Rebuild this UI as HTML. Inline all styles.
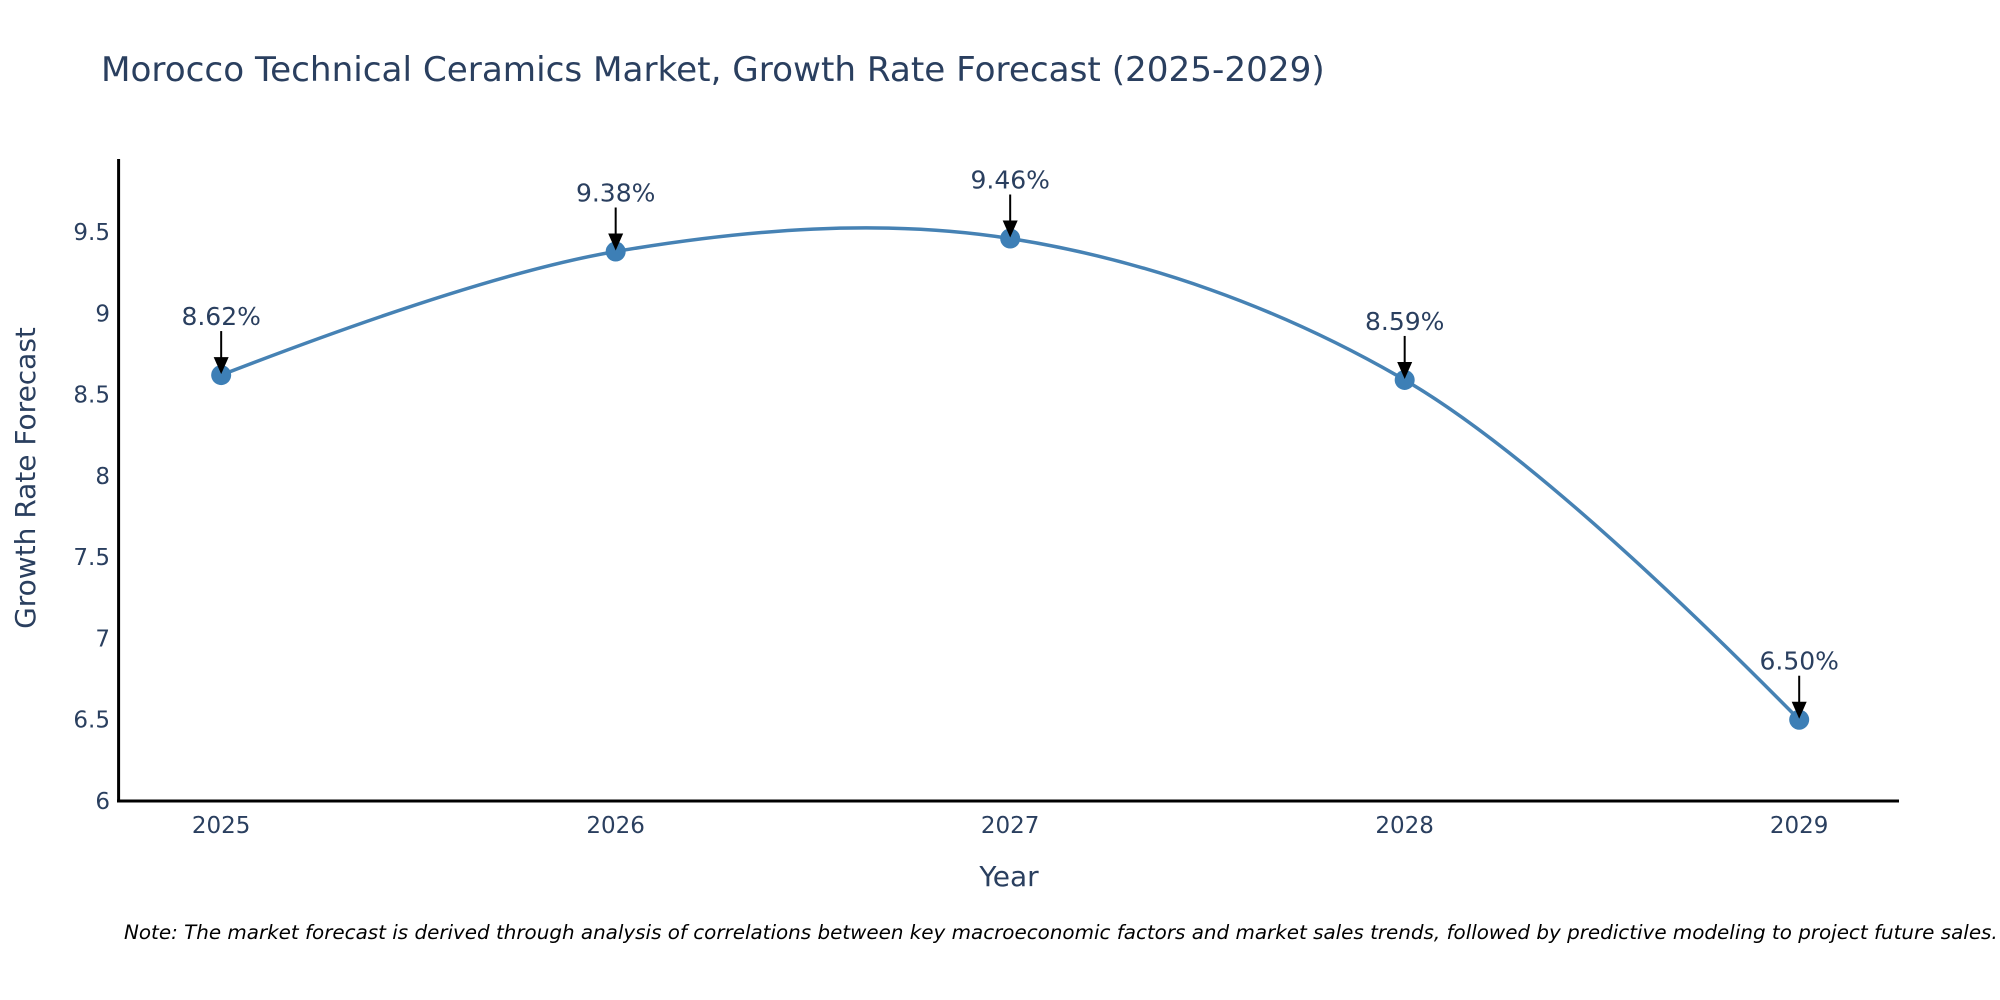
<!DOCTYPE html>
<html><head><meta charset="utf-8"><style>
html,body{margin:0;padding:0;background:#fff;width:2000px;height:1000px;overflow:hidden}
svg{display:block;font-family:"DejaVu Sans","Liberation Sans",sans-serif}
</style></head><body>
<svg id="chart" width="2000" height="1000" viewBox="0 0 2000 1000">
<text x="101" y="81" font-size="34.2" fill="#2a3f5f">Morocco Technical Ceramics Market, Growth Rate Forecast (2025-2029)</text>
<g id="yticks"></g>
<g id="xticks"></g>
<path id="line" fill="none" stroke="#4682b4" stroke-width="3.5"/>
<g id="marks"></g>
<g id="annos"></g>
<line x1="118.6" y1="159" x2="118.6" y2="802" stroke="#000" stroke-width="3"/>
<line x1="117" y1="801" x2="1899" y2="801" stroke="#000" stroke-width="3"/>
<text x="1009" y="886" font-size="28" fill="#2a3f5f" text-anchor="middle">Year</text>
<text transform="translate(35,478) rotate(-90)" font-size="28" fill="#2a3f5f" text-anchor="middle">Growth Rate Forecast</text>
<text x="124" y="939" font-size="19.9" font-style="italic" fill="#000">Note: The market forecast is derived through analysis of correlations between key macroeconomic factors and market sales trends, followed by predictive modeling to project future sales.</text>
</svg>
<script>
const years = [2025, 2026, 2027, 2028, 2029];
const values = [8.62, 9.38, 9.46, 8.59, 6.50];
const labels = ["8.62%", "9.38%", "9.46%", "8.59%", "6.50%"];
const yTickValues = [6, 6.5, 7, 7.5, 8, 8.5, 9, 9.5];
const yTickLabels = ["6", "6.5", "7", "7.5", "8", "8.5", "9", "9.5"];

const NS = "http://www.w3.org/2000/svg";
const X0 = 2024.74, X1 = 2029.253, PX0 = 118.6, PX1 = 1899;
const Y0 = 6, Y1 = 9.5, PY0 = 801, PY1 = 232;
function xs(v){return PX0 + (v - X0) / (X1 - X0) * (PX1 - PX0);}
function ys(v){return PY0 + (v - Y0) / (Y1 - Y0) * (PY1 - PY0);}
function mk(tag, attrs, parent){const e=document.createElementNS(NS,tag);for(const k in attrs)e.setAttribute(k,attrs[k]);parent.appendChild(e);return e;}

const yt = document.getElementById('yticks');
yTickValues.forEach((v,i)=>{
  const t = mk('text',{x:110,y:ys(v)+8,'font-size':23,fill:'#2a3f5f','text-anchor':'end'},yt);
  
  
  t.textContent = yTickLabels[i];
});
const xt = document.getElementById('xticks');
years.forEach(y=>{
  const t = mk('text',{x:xs(y),y:833,'font-size':23,fill:'#2a3f5f','text-anchor':'middle'},xt);
  
  
  t.textContent = String(y);
});

const pts = years.map((y,i)=>[xs(y), ys(values[i])]);
function makeTangent(a, b, c, sm){
  const d1x=a[0]-b[0], d1y=a[1]-b[1], d2x=c[0]-b[0], d2y=c[1]-b[1];
  const d1a=Math.pow(d1x*d1x+d1y*d1y,0.25), d2a=Math.pow(d2x*d2x+d2y*d2y,0.25);
  const nx=(d2a*d2a*d1x-d1a*d1a*d2x)*sm, ny=(d2a*d2a*d1y-d1a*d1a*d2y)*sm;
  const den1=3*d2a*(d1a+d2a), den2=3*d1a*(d1a+d2a);
  return [[b[0]+nx/den1,b[1]+ny/den1],[b[0]-nx/den2,b[1]-ny/den2]];
}
const tans=[];
for(let i=1;i<pts.length-1;i++) tans.push(makeTangent(pts[i-1],pts[i],pts[i+1],1));
let d='M'+pts[0]+' Q'+tans[0][0]+' '+pts[1];
for(let i=2;i<pts.length-1;i++) d+=' C'+tans[i-2][1]+' '+tans[i-1][0]+' '+pts[i];
d+=' Q'+tans[tans.length-1][1]+' '+pts[pts.length-1];
document.getElementById('line').setAttribute('d', d);

const mg = document.getElementById('marks');
const ag = document.getElementById('annos');
pts.forEach((p,i)=>{
  const c = mk('circle',{cx:p[0],cy:p[1],r:10,fill:'#3d7fb6'},mg);
  
  
  const l = mk('line',{x1:p[0],y1:p[1]-44,x2:p[0],y2:p[1]-16,stroke:'#000','stroke-width':2},ag);
  
  
  const h = mk('polygon',{points:(p[0]-7.5)+','+(p[1]-18)+' '+(p[0]+7.5)+','+(p[1]-18)+' '+p[0]+','+(p[1]-1),fill:'#000'},ag);
  
  
  const t = mk('text',{x:p[0],y:p[1]-50,'font-size':25,fill:'#2a3f5f','text-anchor':'middle'},ag);
  
  
  t.textContent = labels[i];
});
</script>
</body></html>
